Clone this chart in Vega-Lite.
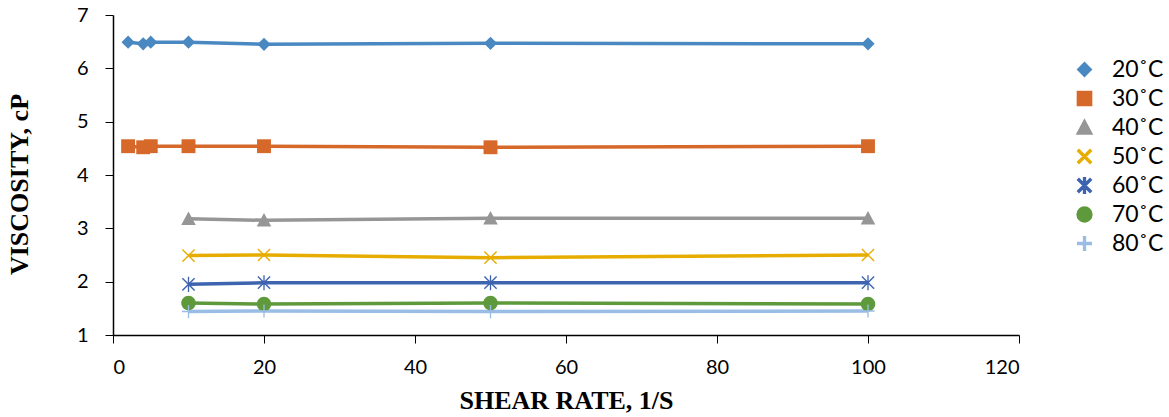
{
  "$schema": "https://vega.github.io/schema/vega-lite/v6.json",
  "autosize": {"type": "none"},
  "width": 906,
  "height": 320,
  "padding": {"left": 113, "top": 15, "right": 150, "bottom": 82},
  "background": "white",
  "config": {
    "view": {"stroke": null},
    "axis": {
      "grid": false,
      "domainColor": "black",
      "domainWidth": 1.5,
      "tickColor": "black",
      "tickWidth": 1,
      "tickSize": 8,
      "labelFont": "Lato",
      "labelFontSize": 20,
      "labelColor": "black",
      "titleFont": "Liberation Serif",
      "titleFontSize": 26,
      "titleFontWeight": "bold",
      "titleColor": "black"
    }
  },
  "data": {
    "values": [
      {"series": "20˚C", "x": 2, "y": 6.49},
      {"series": "20˚C", "x": 4, "y": 6.46},
      {"series": "20˚C", "x": 5, "y": 6.49},
      {"series": "20˚C", "x": 10, "y": 6.49},
      {"series": "20˚C", "x": 20, "y": 6.45},
      {"series": "20˚C", "x": 50, "y": 6.47},
      {"series": "20˚C", "x": 100, "y": 6.46},
      {"series": "30˚C", "x": 2, "y": 4.54},
      {"series": "30˚C", "x": 4, "y": 4.52},
      {"series": "30˚C", "x": 5, "y": 4.54},
      {"series": "30˚C", "x": 10, "y": 4.54},
      {"series": "30˚C", "x": 20, "y": 4.54},
      {"series": "30˚C", "x": 50, "y": 4.52},
      {"series": "30˚C", "x": 100, "y": 4.54},
      {"series": "40˚C", "x": 10, "y": 3.18},
      {"series": "40˚C", "x": 20, "y": 3.15},
      {"series": "40˚C", "x": 50, "y": 3.19},
      {"series": "40˚C", "x": 100, "y": 3.19},
      {"series": "50˚C", "x": 10, "y": 2.49},
      {"series": "50˚C", "x": 20, "y": 2.5},
      {"series": "50˚C", "x": 50, "y": 2.45},
      {"series": "50˚C", "x": 100, "y": 2.5},
      {"series": "60˚C", "x": 10, "y": 1.95},
      {"series": "60˚C", "x": 20, "y": 1.98},
      {"series": "60˚C", "x": 50, "y": 1.98},
      {"series": "60˚C", "x": 100, "y": 1.98},
      {"series": "70˚C", "x": 10, "y": 1.6},
      {"series": "70˚C", "x": 20, "y": 1.58},
      {"series": "70˚C", "x": 50, "y": 1.6},
      {"series": "70˚C", "x": 100, "y": 1.58},
      {"series": "80˚C", "x": 10, "y": 1.44},
      {"series": "80˚C", "x": 20, "y": 1.45},
      {"series": "80˚C", "x": 50, "y": 1.44},
      {"series": "80˚C", "x": 100, "y": 1.45}
    ]
  },
  "encoding": {
    "x": {
      "field": "x", "type": "quantitative",
      "scale": {"domain": [0, 120], "nice": false},
      "axis": {"values": [0, 20, 40, 60, 80, 100, 120], "labelPadding": 14, "title": "SHEAR RATE, 1/S", "titlePadding": 10}
    },
    "y": {
      "field": "y", "type": "quantitative",
      "scale": {"domain": [1, 7], "nice": false, "zero": false},
      "axis": {"values": [1, 2, 3, 4, 5, 6, 7], "labelPadding": 17, "title": "VISCOSITY, cP", "titlePadding": 44, "titleY": 169}
    }
  },
  "layer": [
    {
      "mark": {"type": "line", "strokeWidth": 3.5},
      "encoding": {
        "stroke": {
          "field": "series", "type": "nominal",
          "scale": {"domain": ["20˚C", "30˚C", "40˚C", "50˚C", "60˚C", "70˚C", "80˚C"],
                    "range": ["#4A88C2", "#D6692A", "#969696", "#E6AD00", "#3E64B0", "#5E9A3C", "#99BDE5"]},
          "legend": {
            "title": null,
            "orient": "right",
            "offset": 11,
            "padding": 43,
            "labelFont": "Lato",
            "labelFontSize": 23,
            "labelOpacity": 0,
            "labelOffset": 16,
            "rowPadding": 5,
            "symbolType": "M-4.15,-0.1H4.15V0.1H-4.15Z",
            "symbolSize": 169,
            "symbolStrokeWidth": 2
          }
        }
      }
    },
    {
      "mark": {"type": "point", "filled": true, "size": 175, "opacity": 1},
      "encoding": {
        "color": {
          "field": "series", "type": "nominal",
          "scale": {"domain": ["20˚C", "30˚C", "40˚C", "50˚C", "60˚C", "70˚C", "80˚C"],
                    "range": ["#4A88C2", "#D6692A", "#969696", "#E6AD00", "#3E64B0", "#5E9A3C", "#99BDE5"]},
          "legend": {
            "title": null,
            "orient": "none",
            "legendX": 960,
            "legendY": 43,
            "labelFont": "Lato",
            "labelFontSize": 23,
            "labelColor": "black",
            "labelOffset": 16,
            "rowPadding": 5,
            "symbolSize": 169,
            "symbolOpacity": 1
          }
        },
        "shape": {
          "field": "series", "type": "nominal",
          "scale": {"domain": ["20˚C", "30˚C", "40˚C", "50˚C", "60˚C", "70˚C", "80˚C"],
                    "range": [
                      "M0,-1L1,0L0,1L-1,0Z",
                      "M-1.05,-1.05H1.05V1.05H-1.05Z",
                      "M0,-1.1L1.1,0.95L-1.1,0.95Z",
                      "M-1,-0.85L-0.85,-1L1,0.85L0.85,1ZM-1,0.85L0.85,-1L1,-0.85L-0.85,1Z",
                      "M-1,-0.85L-0.85,-1L1,0.85L0.85,1ZM-1,0.85L0.85,-1L1,-0.85L-0.85,1ZM-0.1,-1.15L0.1,-1.15L0.1,1.15L-0.1,1.15Z",
                      "M1.1,0A1.1,1.1,0,1,1,-1.1,0A1.1,1.1,0,1,1,1.1,0Z",
                      "M-0.1,-1L0.1,-1L0.1,1L-0.1,1ZM-1,-0.1L1,-0.1L1,0.1L-1,0.1Z"
                    ]},
          "legend": null
        }
      }
    }
  ]
}
